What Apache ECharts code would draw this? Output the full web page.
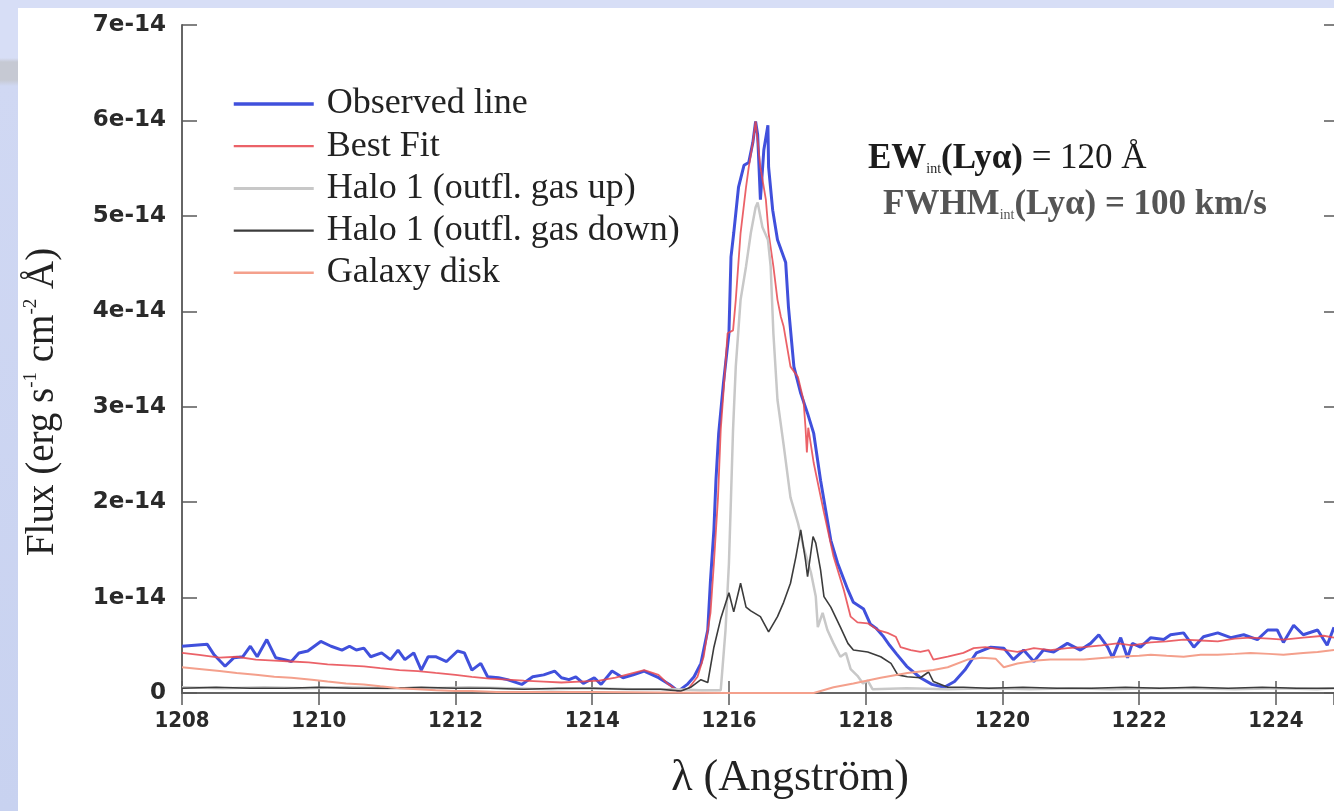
<!DOCTYPE html>
<html>
<head>
<meta charset="utf-8">
<title>Lyα line profile</title>
<script src="https://cdn.jsdelivr.net/npm/echarts@6/dist/echarts.min.js"></script>
<style>
  html, body { margin: 0; padding: 0; width: 1334px; height: 811px; overflow: hidden; }
  body { background: linear-gradient(to bottom, #d7def6 0px, #d7def6 58px, #c6c9d3 62px, #c6c9d3 80px, #d0d8f3 86px, #c8d2f0 811px); }
  #sheet { position: absolute; left: 18px; top: 8px; right: 0; bottom: 0; background: #ffffff; }
  #chart { position: absolute; left: 0; top: 0; width: 1334px; height: 811px; }
</style>
</head>
<body>
<div id="sheet"></div>
<div id="chart"></div>
<script>
// Wavelength in Angstrom, flux in units of 1e-14 erg s^-1 cm^-2 A^-1

const observedWave = [1208.0, 1208.37, 1208.47, 1208.63, 1208.76, 1208.89, 1209.0, 1209.1, 1209.24, 1209.37,
  1209.5, 1209.6, 1209.71, 1209.84, 1210.03, 1210.18, 1210.34, 1210.45, 1210.55, 1210.66,
  1210.76, 1210.92, 1211.05, 1211.16, 1211.26, 1211.39, 1211.5, 1211.6, 1211.71, 1211.87,
  1212.03, 1212.13, 1212.24, 1212.37, 1212.47, 1212.63, 1212.76, 1212.97, 1213.13, 1213.29,
  1213.45, 1213.55, 1213.66, 1213.76, 1213.87, 1214.03, 1214.13, 1214.29, 1214.45, 1214.6,
  1214.76, 1214.97, 1215.13, 1215.26, 1215.39, 1215.49, 1215.59, 1215.69, 1215.73, 1215.78,
  1215.81, 1215.85, 1215.92, 1216.0, 1216.03, 1216.07, 1216.14, 1216.22, 1216.29, 1216.35,
  1216.39, 1216.42, 1216.46, 1216.51, 1216.57, 1216.58, 1216.64, 1216.71, 1216.83, 1216.87,
  1216.95, 1217.05, 1217.15, 1217.24, 1217.34, 1217.49, 1217.59, 1217.74, 1217.82, 1217.97,
  1218.07, 1218.15, 1218.25, 1218.35, 1218.45, 1218.6, 1218.8, 1218.97, 1219.15, 1219.3,
  1219.45, 1219.62, 1219.83, 1220.02, 1220.16, 1220.31, 1220.46, 1220.6, 1220.75, 1220.95,
  1221.14, 1221.29, 1221.41, 1221.54, 1221.61, 1221.73, 1221.83, 1221.9, 1222.02, 1222.17,
  1222.36, 1222.46, 1222.65, 1222.8, 1222.94, 1223.15, 1223.34, 1223.53, 1223.73, 1223.88,
  1224.02, 1224.11, 1224.26, 1224.4, 1224.61, 1224.75, 1224.85];
const observedFlux = [0.49, 0.51, 0.40, 0.28, 0.37, 0.38, 0.49, 0.38, 0.56, 0.37,
  0.35, 0.33, 0.42, 0.44, 0.54, 0.49, 0.45, 0.49, 0.45, 0.47,
  0.38, 0.42, 0.35, 0.45, 0.35, 0.42, 0.24, 0.38, 0.38, 0.33,
  0.44, 0.42, 0.24, 0.31, 0.17, 0.16, 0.14, 0.09, 0.17, 0.19,
  0.23, 0.16, 0.14, 0.17, 0.10, 0.16, 0.09, 0.23, 0.16, 0.19,
  0.23, 0.16, 0.09, 0.02, 0.09, 0.17, 0.31, 0.66, 1.18, 1.71,
  2.23, 2.72, 3.25, 3.77, 4.57, 4.82, 5.30, 5.53, 5.56, 5.77,
  5.99, 5.85, 5.17, 5.69, 5.95, 5.51, 5.06, 4.75, 4.51, 4.05,
  3.42, 3.14, 2.93, 2.72, 2.23, 1.60, 1.36, 1.08, 0.95, 0.88,
  0.72, 0.68, 0.60, 0.50, 0.41, 0.28, 0.16, 0.09, 0.06, 0.12,
  0.24, 0.42, 0.48, 0.47, 0.35, 0.45, 0.33, 0.45, 0.43, 0.52,
  0.45, 0.52, 0.61, 0.48, 0.37, 0.58, 0.37, 0.52, 0.48, 0.58,
  0.56, 0.61, 0.63, 0.48, 0.59, 0.63, 0.58, 0.61, 0.56, 0.66,
  0.66, 0.53, 0.71, 0.61, 0.66, 0.50, 0.69];

const bestFitWave = [1208.0, 1208.25, 1208.55, 1208.8, 1209.08, 1209.35, 1209.6, 1209.85, 1210.13, 1210.4,
  1210.66, 1210.9, 1211.18, 1211.45, 1211.71, 1212.0, 1212.24, 1212.5, 1212.76, 1213.0,
  1213.29, 1213.55, 1213.82, 1214.1, 1214.34, 1214.55, 1214.76, 1214.97, 1215.1, 1215.24,
  1215.4, 1215.54, 1215.63, 1215.73, 1215.78, 1215.84, 1215.88, 1215.93, 1215.98, 1216.06,
  1216.1, 1216.17, 1216.25, 1216.29, 1216.35, 1216.39, 1216.46, 1216.54, 1216.58, 1216.65,
  1216.71, 1216.76, 1216.8, 1216.9, 1217.01, 1217.09, 1217.12, 1217.14, 1217.16, 1217.24,
  1217.39, 1217.53, 1217.68, 1217.78, 1217.88, 1218.03, 1218.18, 1218.32, 1218.44, 1218.51,
  1218.66, 1218.8, 1218.92, 1218.99, 1219.2, 1219.43, 1219.58, 1219.75, 1219.95, 1220.22,
  1220.46, 1220.7, 1220.95, 1221.19, 1221.45, 1221.68, 1221.9, 1222.17, 1222.4, 1222.65,
  1222.9, 1223.15, 1223.4, 1223.63, 1223.9, 1224.11, 1224.4, 1224.7, 1224.85];
const bestFitFlux = [0.42, 0.40, 0.37, 0.38, 0.35, 0.34, 0.33, 0.32, 0.30, 0.29,
  0.28, 0.26, 0.24, 0.23, 0.21, 0.19, 0.17, 0.15, 0.14, 0.13,
  0.12, 0.11, 0.12, 0.13, 0.16, 0.20, 0.24, 0.19, 0.10, 0.03,
  0.04, 0.17, 0.38, 0.84, 1.36, 2.05, 2.76, 3.25, 3.77, 3.80,
  4.12, 4.82, 5.30, 5.51, 5.77, 5.99, 5.51, 5.17, 4.82, 4.47,
  4.12, 3.94, 3.84, 3.42, 3.31, 3.07, 2.78, 2.52, 2.78, 2.41,
  1.89, 1.43, 1.08, 0.80, 0.74, 0.73, 0.66, 0.63, 0.59, 0.48,
  0.45, 0.43, 0.45, 0.35, 0.38, 0.42, 0.47, 0.48, 0.46, 0.43,
  0.47, 0.45, 0.47, 0.48, 0.50, 0.52, 0.50, 0.53, 0.54, 0.56,
  0.55, 0.54, 0.57, 0.58, 0.57, 0.56, 0.58, 0.60, 0.58];

const haloUpWave = [1208.0, 1208.6, 1209.2, 1209.8, 1210.4, 1211.0, 1211.6, 1212.2, 1212.8, 1213.4,
  1214.0, 1214.6, 1215.2, 1215.6, 1215.88, 1215.95, 1216.0, 1216.03, 1216.06, 1216.1,
  1216.17, 1216.25, 1216.32, 1216.39, 1216.42, 1216.49, 1216.57, 1216.61, 1216.65, 1216.71,
  1216.8, 1216.9, 1217.01, 1217.09, 1217.2, 1217.27, 1217.3, 1217.37, 1217.44, 1217.53,
  1217.63, 1217.71, 1217.78, 1217.88, 1217.96, 1218.03, 1218.1, 1218.6, 1219.2, 1219.8,
  1220.4, 1221.0, 1221.6, 1222.2, 1222.8, 1223.4, 1224.0, 1224.6, 1224.85];
const haloUpFlux = [0.06, 0.05, 0.06, 0.05, 0.06, 0.05, 0.05, 0.06, 0.05, 0.04,
  0.05, 0.04, 0.04, 0.03, 0.03, 0.66, 1.36, 2.05, 2.76, 3.42,
  4.12, 4.47, 4.82, 5.09, 5.14, 4.88, 4.75, 4.47, 3.77, 3.07,
  2.60, 2.05, 1.78, 1.53, 1.26, 1.01, 0.69, 0.84, 0.66, 0.52,
  0.38, 0.42, 0.25, 0.18, 0.10, 0.13, 0.04, 0.05, 0.04, 0.05,
  0.04, 0.05, 0.04, 0.05, 0.05, 0.04, 0.05, 0.04, 0.05];

const haloDownWave = [1208.0, 1208.5, 1209.0, 1209.5, 1210.0, 1210.5, 1211.0, 1211.5, 1212.0, 1212.5,
  1213.0, 1213.5, 1214.0, 1214.5, 1215.0, 1215.3, 1215.44, 1215.59, 1215.69, 1215.78,
  1215.88, 1216.0, 1216.07, 1216.17, 1216.25, 1216.32, 1216.46, 1216.58, 1216.71, 1216.8,
  1216.9, 1216.98, 1217.05, 1217.12, 1217.15, 1217.23, 1217.27, 1217.34, 1217.39, 1217.49,
  1217.63, 1217.74, 1217.82, 1218.03, 1218.22, 1218.37, 1218.47, 1218.61, 1218.8, 1218.92,
  1218.99, 1219.2, 1219.43, 1219.8, 1220.3, 1220.8, 1221.3, 1221.8, 1222.3, 1222.8,
  1223.3, 1223.8, 1224.3, 1224.85];
const haloDownFlux = [0.05, 0.06, 0.05, 0.05, 0.06, 0.05, 0.05, 0.06, 0.05, 0.05,
  0.04, 0.05, 0.05, 0.04, 0.04, 0.02, 0.06, 0.14, 0.11, 0.48,
  0.78, 1.05, 0.85, 1.15, 0.90, 0.86, 0.80, 0.64, 0.80, 0.95,
  1.15, 1.43, 1.71, 1.39, 1.22, 1.64, 1.57, 1.29, 1.01, 0.90,
  0.69, 0.52, 0.45, 0.43, 0.38, 0.31, 0.19, 0.17, 0.16, 0.22,
  0.12, 0.06, 0.06, 0.05, 0.06, 0.05, 0.05, 0.06, 0.05, 0.06,
  0.05, 0.06, 0.05, 0.05];

const diskWave = [1208.0, 1208.29, 1208.55, 1208.8, 1209.08, 1209.35, 1209.6, 1209.9, 1210.13, 1210.4,
  1210.66, 1210.9, 1211.18, 1211.45, 1211.71, 1212.0, 1212.24, 1212.6, 1213.0, 1214.0,
  1215.0, 1216.0, 1217.0, 1217.24, 1217.53, 1217.82, 1218.22, 1218.61, 1218.99, 1219.2,
  1219.49, 1219.7, 1219.9, 1220.02, 1220.22, 1220.5, 1220.7, 1221.0, 1221.19, 1221.5,
  1221.68, 1222.0, 1222.17, 1222.4, 1222.65, 1222.9, 1223.15, 1223.4, 1223.63, 1223.9,
  1224.11, 1224.4, 1224.61, 1224.85];
const diskFlux = [0.27, 0.25, 0.23, 0.21, 0.19, 0.17, 0.16, 0.14, 0.12, 0.10,
  0.09, 0.07, 0.05, 0.04, 0.03, 0.02, 0.02, 0.01, 0.01, 0.01,
  0.005, 0.0, 0.0, 0.0, 0.06, 0.10, 0.16, 0.21, 0.24, 0.27,
  0.35, 0.37, 0.36, 0.27, 0.31, 0.34, 0.35, 0.35, 0.35, 0.37,
  0.38, 0.39, 0.40, 0.39, 0.38, 0.40, 0.40, 0.41, 0.42, 0.41,
  0.40, 0.42, 0.43, 0.45];

const seriesNames = ['Observed line', 'Best Fit', 'Halo 1 (outfl. gas up)', 'Halo 1 (outfl. gas down)', 'Galaxy disk'];
const seriesColors = ['#4050dc', '#e8474e', '#c8c8c8', '#3c3c3c', '#f4a08c'];
const seriesWidths = [3, 1.8, 2.5, 1.6, 2];
const xTicks = { min: 1208, max: 1224.85, step: 2 };
const yTicks = { min: 0, max: 7, step: 1 };

function pairs(wave, flux) {
  return wave.map(function (w, i) { return [w, flux[i]]; });
}

function fluxLabel(v) {
  return v === 0 ? '0' : v + 'e-14';
}

function waveLabel(v) {
  return String(v);
}

const serif = "'Liberation Serif', 'DejaVu Serif', serif";
const frameColor = '#5a5a5a';

const chart = echarts.init(document.getElementById('chart'), null, { renderer: 'canvas' });

function lineSeries(i, data, opacity) {
  return {
    name: seriesNames[i],
    type: 'line',
    data: data,
    showSymbol: false,
    symbol: 'none',
    smooth: false,
    lineStyle: { color: seriesColors[i], width: seriesWidths[i], opacity: opacity },
    itemStyle: { color: seriesColors[i] },
    emphasis: { disabled: true }
  };
}

chart.setOption({
  animation: false,
  backgroundColor: 'transparent',
  grid: { left: 182, top: 25, right: 0, bottom: 118, containLabel: false },
  legend: {
    orient: 'vertical',
    left: 232,
    top: 86,
    padding: 0,
    itemWidth: 80,
    itemHeight: 14,
    itemGap: 6.2,
    data: seriesNames.map(function (n, i) {
      return { name: n, lineStyle: { width: seriesWidths[i] + 0.5, color: seriesColors[i] } };
    }),
    itemStyle: { opacity: 0 },
    textStyle: { fontFamily: serif, fontSize: 36, lineHeight: 36, color: '#222', padding: [0, 0, 0, 8] },
    selectedMode: false
  },
  xAxis: [{
    type: 'value',
    position: 'bottom',
    min: xTicks.min, max: xTicks.max, interval: xTicks.step,
    name: 'λ (Angström)',
    nameLocation: 'middle',
    nameGap: 63,
    nameTextStyle: { fontFamily: serif, fontSize: 44, color: '#222', padding: [0, 0, 0, 64] },
    axisLine: { show: true, lineStyle: { color: '#8a8a8a', width: 2 } },
    axisTick: { show: true, inside: true, length: 12, lineStyle: { color: frameColor, width: 1.5 } },
    axisLabel: {
      show: true, margin: 17, showMaxLabel: false, formatter: waveLabel,
      fontFamily: "'DejaVu Sans Condensed', 'Liberation Sans Narrow', 'DejaVu Sans', sans-serif",
      fontWeight: 'bold', fontSize: 22, color: '#2a2a2a'
    },
    splitLine: { show: false }
  }, {
    type: 'value',
    position: 'top',
    min: xTicks.min, max: xTicks.max, interval: xTicks.step,
    axisLine: { show: true, lineStyle: { color: frameColor, width: 1.5 } },
    axisTick: { show: true, inside: true, length: 12, lineStyle: { color: frameColor, width: 1.5 } },
    axisLabel: { show: false },
    splitLine: { show: false }
  }],
  yAxis: [{
    type: 'value',
    position: 'left',
    min: yTicks.min, max: yTicks.max, interval: yTicks.step,
    name: '{t|Flux (erg s}{s|-1}{t| cm}{s|-2}{t| Å)}',
    nameLocation: 'middle',
    nameGap: 118,
    nameTextStyle: {
      padding: [0, 86, 0, 0],
      rich: {
        t: { fontFamily: serif, fontSize: 39, lineHeight: 42, color: '#222' },
        s: { fontFamily: serif, fontSize: 19, verticalAlign: 'top', color: '#222' }
      }
    },
    axisLine: { show: true, lineStyle: { color: '#666', width: 2 } },
    axisTick: { show: true, inside: true, length: 15, lineStyle: { color: frameColor, width: 1.5 } },
    axisLabel: {
      show: true, margin: 16, formatter: fluxLabel,
      fontFamily: "'DejaVu Sans', sans-serif", fontWeight: 'bold', fontSize: 23, color: '#2a2a2a'
    },
    splitLine: { show: false }
  }, {
    type: 'value',
    position: 'right',
    min: yTicks.min, max: yTicks.max, interval: yTicks.step,
    axisLine: { show: false },
    axisTick: { show: true, inside: true, length: 10, lineStyle: { color: frameColor, width: 1.5 } },
    axisLabel: { show: false },
    splitLine: { show: false }
  }],
  graphic: [{
    type: 'text',
    left: 868,
    top: 141,
    silent: true,
    style: {
      text: '{b|EW}{sub|int}{b|(Lyα)}{r| = 120 Å}',
      rich: {
        b: { fontFamily: serif, fontWeight: 'bold', fontSize: 35, lineHeight: 36, fill: '#1c1c1c' },
        r: { fontFamily: serif, fontSize: 35, lineHeight: 36, fill: '#1c1c1c' },
        sub: { fontFamily: serif, fontSize: 14, verticalAlign: 'bottom', fill: '#1c1c1c' }
      }
    }
  }, {
    type: 'text',
    left: 883,
    top: 187,
    silent: true,
    style: {
      text: '{b|FWHM}{sub|int}{b|(Lyα) = 100 km/s}',
      rich: {
        b: { fontFamily: serif, fontWeight: 'bold', fontSize: 35, lineHeight: 36, fill: '#555555' },
        sub: { fontFamily: serif, fontSize: 14, verticalAlign: 'bottom', fill: '#555555' }
      }
    }
  }],
  series: [
    lineSeries(0, pairs(observedWave, observedFlux), 1),
    lineSeries(1, pairs(bestFitWave, bestFitFlux), 0.85),
    lineSeries(2, pairs(haloUpWave, haloUpFlux), 1),
    lineSeries(3, pairs(haloDownWave, haloDownFlux), 1),
    lineSeries(4, pairs(diskWave, diskFlux), 1)
  ]
});
</script>
</body>
</html>
